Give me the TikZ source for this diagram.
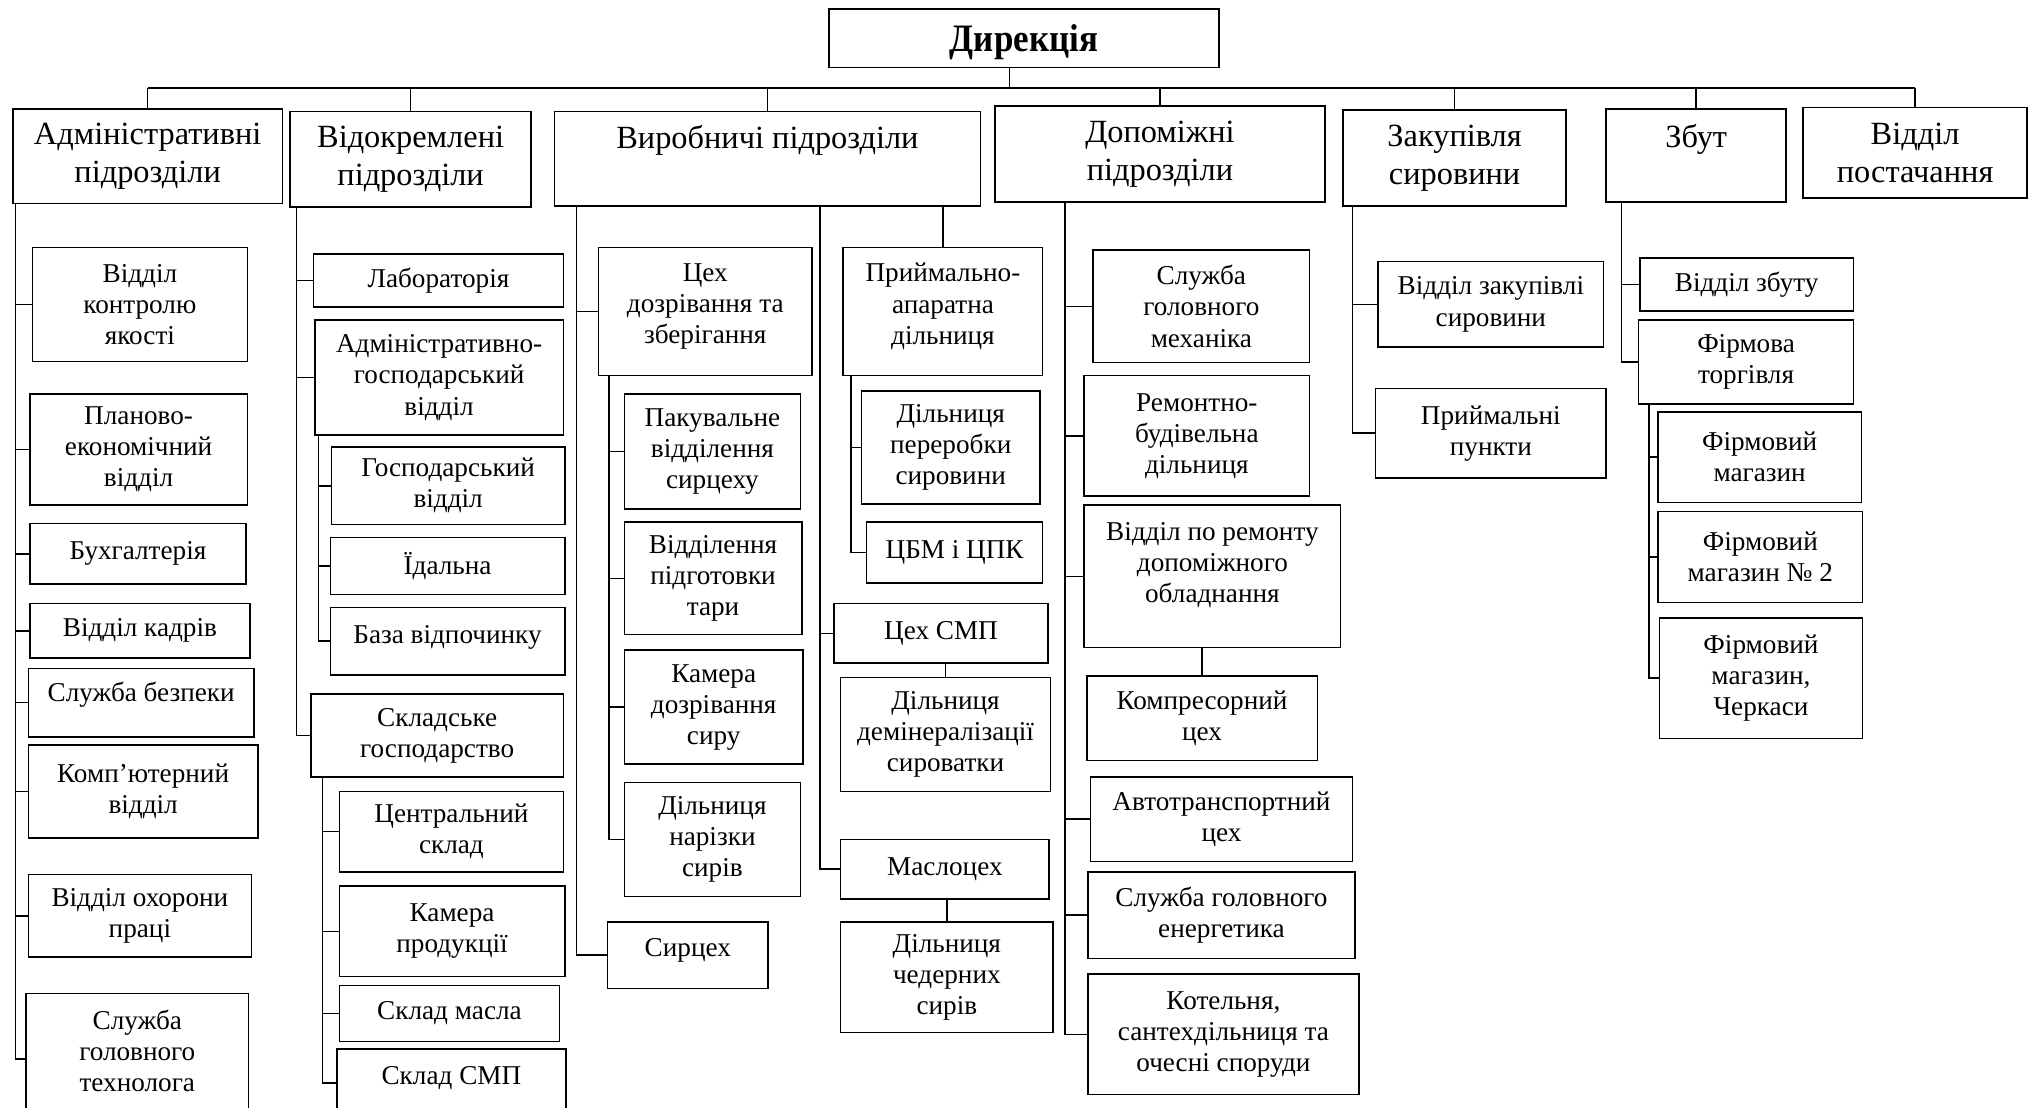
\documentclass[tikz,border=0pt]{standalone}
\usepackage{fontspec}
\setmainfont{Liberation Serif}
\newfontfamily\tallfont{Liberation Serif}[FakeStretch=0.9]
\usetikzlibrary{calc}

\tikzset{
  unitbox/.style={draw, line width=0.6pt, inner sep=0pt},
  unittext/.style={align=center, inner sep=0pt, font=\fontsize{10.5}{12}\selectfont},
  headtext/.style={align=center, inner sep=0pt, font=\fontsize{12.5}{14.5}\selectfont},
  link/.style={line width=0.6pt},
}

% box from (x1,y1) to (x2,y2), text moved by the optional shift
\newcommand{\orgbox}[7][0]{%
  \node[unitbox, minimum width={(#5-#3)*0.5pt}, minimum height={(#6-#4)*0.5pt}] (#2) at ({(#3+#5)/2},{(#4+#6)/2}) {};
  \node[unittext] (#2-t) at ({(#3+#5)/2},{(#4+#6)/2+#1}) {#7};}
\newcommand{\headbox}[7][0]{%
  \node[unitbox, minimum width={(#5-#3)*0.5pt}, minimum height={(#6-#4)*0.5pt}] (#2) at ({(#3+#5)/2},{(#4+#6)/2}) {};
  \node[headtext] (#2-t) at ({(#3+#5)/2},{(#4+#6)/2+#1}) {#7};}

\begin{document}
\begin{tikzpicture}[x=0.5pt, y=-0.5pt]
\useasboundingbox (0,0) rectangle (1568,855);

\node[unitbox, minimum width=150.5pt, minimum height=22.5pt] (dir) at (790.5,29.5) {};
\node[inner sep=0pt, font=\fontsize{15}{17}\tallfont\bfseries] (dir-t) at (790.5,32.5) {Дирекція};

% heads
\headbox{adm}{10}{84}{218}{157}{Адміністративні\\підрозділи}
\headbox{otd}{224}{86}{410}{160}{Відокремлені\\підрозділи}
\headbox[-14.5]{vyr}{428}{86}{757}{159}{Виробничі підрозділи}
\headbox{dop}{768}{82}{1023}{156}{Допоміжні\\підрозділи}
\headbox{zak}{1037}{85}{1209}{159}{Закупівля\\сировини}
\headbox[-12]{zbut}{1240}{84}{1379}{156}{Збут}
\headbox{post}{1392}{83}{1565}{153}{Відділ\\постачання}

\coordinate (bus) at (0,68);
\draw[link] ([xshift=-5.5pt]dir.south) -- ([xshift=-5.5pt]dir.south |- bus);
\draw[link] (adm.north |- bus) -- (post.north |- bus);
\draw[link] (adm.north |- bus) -- (adm.north) (otd.north |- bus) -- (otd.north)
  (vyr.north |- bus) -- (vyr.north) (dop.north |- bus) -- (dop.north)
  (zak.north |- bus) -- (zak.north) (zbut.north |- bus) -- (zbut.north)
  (post.north |- bus) -- (post.north);

% administrative
\orgbox{vk}{25}{191}{191}{279}{Відділ\\контролю\\якості}
\orgbox{pe}{23}{304}{191}{390}{Планово-\\економічний\\відділ}
\orgbox{bu}{23}{404}{190}{451}{Бухгалтерія}
\orgbox{vka}{23}{466}{193}{508}{Відділ кадрів}
\orgbox[-6]{sb}{22}{516}{196}{569}{Служба безпеки}
\orgbox{kv}{22}{575}{199}{647}{Комп’ютерний\\відділ}
\orgbox{vop}{22}{675}{194}{739}{Відділ охорони\\праці}
\orgbox[-6]{sgt}{20}{767}{192}{868}{Служба\\головного\\технолога}

\coordinate (admS) at (12,157);
\draw[link] (admS) |- (vk.west) (admS) |- (pe.west) (admS) |- (bu.west)
  (admS) |- (vka.west) (admS) |- (sb.west) (admS) |- (kv.west)
  (admS) |- (vop.west) (admS) |- (sgt.west);

% separate units
\orgbox{lab}{242}{196}{435}{237}{Лабораторія}
\orgbox{agv}{243}{247}{435}{336}{Адміністративно-\\господарський\\відділ}
\orgbox{gv}{256}{345}{436}{405}{Господарський\\відділ}
\orgbox{id}{255}{415}{436}{459}{Їдальна}
\orgbox[-3]{bv}{255}{469}{436}{521}{База відпочинку}
\orgbox{sg}{240}{536}{435}{600}{Складське\\господарство}
\orgbox{cs}{262}{611}{435}{673}{Центральний\\склад}
\orgbox{kp}{262}{684}{436}{754}{Камера\\продукції}
\orgbox{sm}{262}{761}{432}{804}{Склад масла}
\orgbox[-4]{ssmp}{260}{810}{437}{862}{Склад СМП}

\coordinate (otdS) at (229,160);
\coordinate (agvS) at (246,336);
\coordinate (sgS) at (249,600);
\draw[link] (otdS) |- (lab.west) (otdS) |- (agv.west) (otdS) |- (sg.west);
\draw[link] (agvS) |- (gv.west) (agvS) |- (id.west) (agvS) |- (bv.west);
\draw[link] (sgS) |- (cs.west) (sgS) |- (kp.west) (sgS) |- (sm.west) (sgS) |- (ssmp.west);

% production
\orgbox[-4]{cdz}{462}{191}{627}{290}{Цех\\дозрівання та\\зберігання}
\orgbox{pvs}{482}{304}{618}{393}{Пакувальне\\відділення\\сирцеху}
\orgbox{vpt}{482}{403}{619}{490}{Відділення\\підготовки\\тари}
\orgbox{kds}{482}{502}{620}{590}{Камера\\дозрівання\\сиру}
\orgbox{dns}{482}{604}{618}{692}{Дільниця\\нарізки\\сирів}
\orgbox[-4]{sc}{469}{712}{593}{763}{Сирцех}
\orgbox[-4]{pad}{651}{191}{805}{290}{Приймально-\\апаратна\\дільниця}
\orgbox{dps}{665}{302}{803}{389}{Дільниця\\переробки\\сировини}
\orgbox{cbm}{669}{403}{805}{450}{ЦБМ і ЦПК}
\orgbox{csmp}{644}{466}{809}{512}{Цех СМП}
\orgbox{dds}{649}{523}{811}{611}{Дільниця\\демінералізації\\сироватки}
\orgbox{mc}{649}{648}{810}{694}{Маслоцех}
\orgbox{dcs}{649}{712}{813}{797}{Дільниця\\чедерних\\сирів}

\coordinate (vyrA) at (445,159);
\coordinate (vyrB) at (633,159);
\coordinate (cdzS) at (470,290);
\coordinate (padS) at (657,290);
\draw[link] (vyrA) |- (cdz.west) (vyrA) |- (sc.west);
\draw[link] (cdzS) |- (pvs.west) (cdzS) |- (vpt.west) (cdzS) |- (kds.west) (cdzS) |- (dns.west);
\draw[link] (vyrB) |- (csmp.west) (vyrB) |- (mc.west);
\draw[link] (pad.north) -- (pad.north |- vyr.south);
\draw[link] (padS) |- (dps.west) (padS) |- (cbm.west);
\draw[link] (dds.north) -- (dds.north |- csmp.south);
\draw[link] (dcs.north) -- (dcs.north |- mc.south);

% auxiliary
\orgbox{sgm}{844}{193}{1011}{280}{Служба\\головного\\механіка}
\orgbox{rbd}{837}{290}{1011}{383}{Ремонтно-\\будівельна\\дільниця}
\orgbox[-9]{vro}{837}{390}{1035}{500}{Відділ по ремонту\\допоміжного\\обладнання}
\orgbox{kc}{839}{522}{1017}{587}{Компресорний\\цех}
\orgbox{atc}{842}{600}{1044}{665}{Автотранспортний\\цех}
\orgbox{sge}{840}{673}{1046}{740}{Служба головного\\енергетика}
\orgbox{kot}{840}{752}{1049}{845}{Котельня,\\сантехдільниця та\\очесні споруди}

\coordinate (dopS) at (822,156);
\draw[link] (dopS) |- (sgm.west) (dopS) |- (rbd.west) (dopS) |- (vro.west)
  (dopS) |- (atc.west) (dopS) |- (sge.west) (dopS) |- (kot.west);
\draw[link] (kc.north) -- (kc.north |- vro.south);

% purchase
\orgbox{vzs}{1064}{202}{1238}{268}{Відділ закупівлі\\сировини}
\orgbox{pp}{1062}{300}{1240}{369}{Приймальні\\пункти}

\coordinate (zakS) at (1044,159);
\draw[link] (zakS) |- (vzs.west) (zakS) |- (pp.west);

% sales
\orgbox{vzb}{1266}{199}{1431}{240}{Відділ збуту}
\orgbox{ft}{1265}{247}{1431}{312}{Фірмова\\торгівля}
\orgbox{fm1}{1280}{318}{1437}{388}{Фірмовий\\магазин}
\orgbox{fm2}{1280}{395}{1438}{465}{Фірмовий\\магазин № 2}
\orgbox{fm3}{1281}{477}{1438}{570}{Фірмовий\\магазин,\\Черкаси}

\coordinate (zbutS) at (1252,156);
\coordinate (ftS) at (1273,312);
\draw[link] (zbutS) |- (vzb.west) (zbutS) |- (ft.west);
\draw[link] (ftS) |- (fm1.west) (ftS) |- (fm2.west) (ftS) |- (fm3.west);

\end{tikzpicture}
\end{document}
